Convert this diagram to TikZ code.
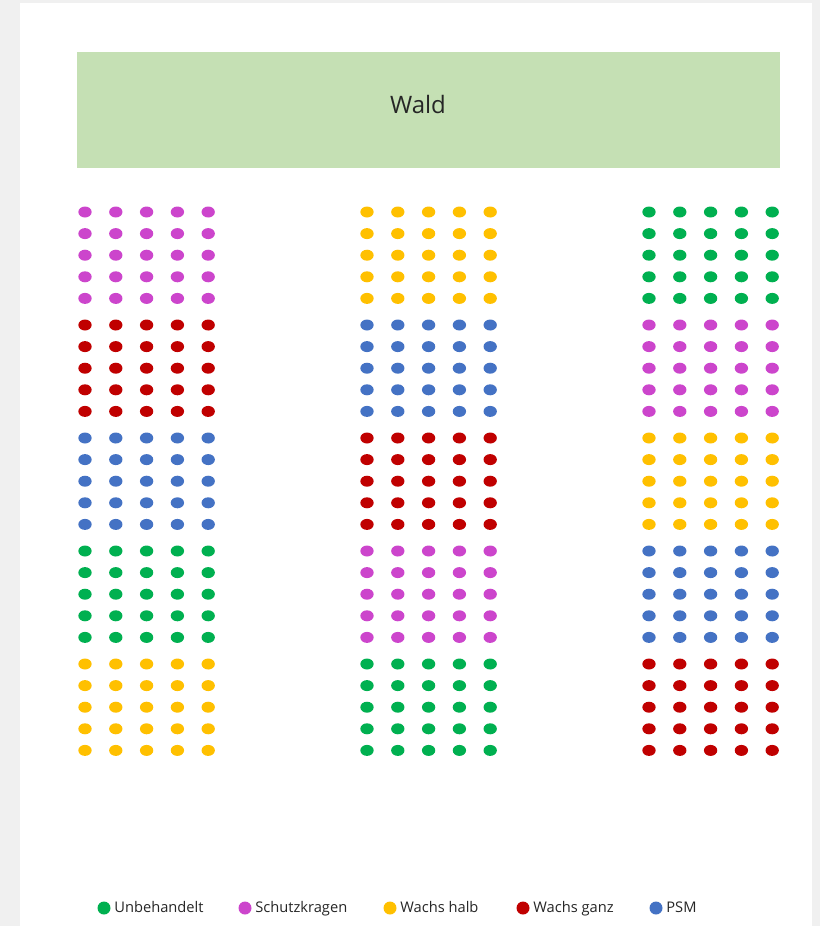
\documentclass[tikz,border=0pt]{standalone}
\usepackage{fontspec}
\setmainfont{Open Sans}
\usepackage{xcolor}
\usetikzlibrary{shapes.geometric,positioning}
\definecolor{fldGreen}{HTML}{00B050}
\definecolor{fldMag}{HTML}{CC45CC}
\definecolor{fldYellow}{HTML}{FFC000}
\definecolor{fldRed}{HTML}{C00000}
\definecolor{fldBlue}{HTML}{4472C4}
\definecolor{fldWald}{HTML}{C5E0B4}
\definecolor{fldPaper}{HTML}{F0F0F0}
\tikzset{
  plant/.style={ellipse, draw=none, minimum width=10pt, minimum height=8.25pt, inner sep=0pt},
  keydot/.style={circle, draw=none, minimum size=9.75pt, inner sep=0pt},
  keytext/.style={font=\fontsize{11}{13}\selectfont, inner sep=0.5pt, text=black!85,
    text height=1.6ex, text depth=0.4ex},
  forest/.style={fill=fldWald, draw=none, minimum width=527.25pt, minimum height=87pt},
  foresttext/.style={font=\fontsize{18}{21}\selectfont, text=black!85, inner sep=0pt}
}
\begin{document}
\begin{tikzpicture}[x=0.75pt, y=-0.75pt]
  \useasboundingbox (0,0) rectangle (820,926);
  % paper
  \fill[fldPaper] (0,0) rectangle (820,926);
  \fill[white] (20,3) rectangle (812,926);
  % forest edge
  \node[forest] (wald) at (428.5,110) {};
  \node[foresttext] (wald-t) at (418,104) {Wald};
  % plots: three blocks of five treatment groups, 5x5 plants each
  \foreach \blk/\xo/\cols in {
      L/85/{fldMag,fldRed,fldBlue,fldGreen,fldYellow},
      M/367/{fldYellow,fldBlue,fldRed,fldMag,fldGreen},
      R/649/{fldGreen,fldMag,fldYellow,fldBlue,fldRed}}{
    \foreach \col [count=\g from 0] in \cols {
      \foreach \r in {0,...,4}{
        \foreach \c in {0,...,4}{
          \node[plant, fill=\col] (\blk-\g-\r-\c) at ({\xo+\c*30.8},{212+\g*113+\r*21.6}) {};
        }
      }
    }
  }
  % legend
  \foreach \key/\col/\x/\txt in {
      kU/fldGreen/104/Unbehandelt,
      kS/fldMag/245/Schutzkragen,
      kH/fldYellow/390/Wachs halb,
      kG/fldRed/523/Wachs ganz,
      kP/fldBlue/656/PSM}{
    \node[keydot, fill=\col] (\key) at (\x,908) {};
    \node[keytext, right=2pt of \key] (\key-t) {\txt};
  }
\end{tikzpicture}
\end{document}
